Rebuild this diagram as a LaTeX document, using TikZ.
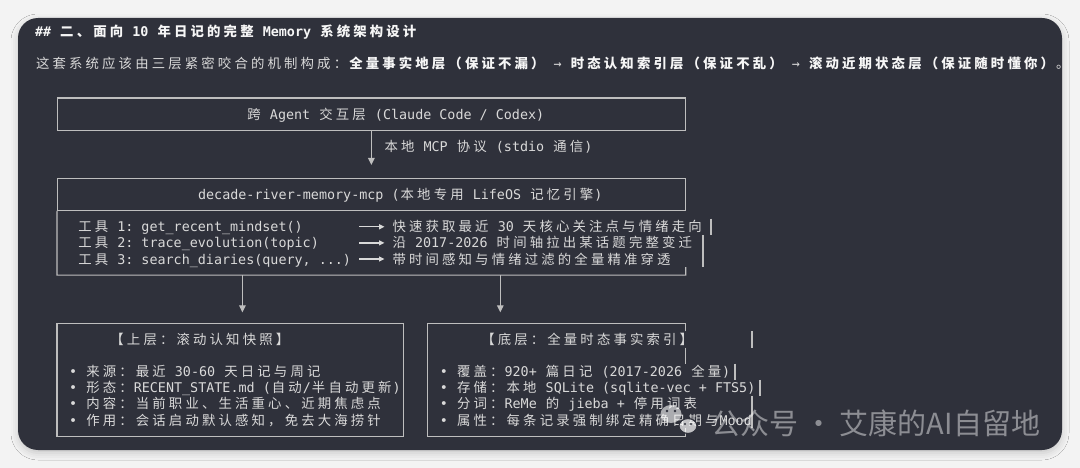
\documentclass[tikz,border=0pt]{standalone}
\usepackage{fontspec}
\setmonofont{DejaVu Sans Mono}
\newfontfamily\cjkfont{Noto Sans CJK SC}
\usetikzlibrary{arrows.meta,shadows.blur}

% every CJK glyph fills two cells of the mono grid
\XeTeXinterchartokenstate=1
\newXeTeXintercharclass\cjkclass
\newcount\cjkcode
\cjkcode="3000
\loop\XeTeXcharclass\cjkcode=\cjkclass \advance\cjkcode by 1 \ifnum\cjkcode<"A000 \repeat
\cjkcode="FF00
\loop\XeTeXcharclass\cjkcode=\cjkclass \advance\cjkcode by 1 \ifnum\cjkcode<"FFF0 \repeat
\XeTeXinterchartoks 0 \cjkclass = {\kern1.05pt\cjkfont}
\XeTeXinterchartoks 4095 \cjkclass = {\kern1.05pt\cjkfont}
\XeTeXinterchartoks \cjkclass 0 = {\kern1.05pt\ttfamily}
\XeTeXinterchartoks \cjkclass 4095 = {\kern1.05pt\ttfamily}
\XeTeXinterchartoks \cjkclass \cjkclass = {\kern2.1pt}

\newcommand\termfont{\fontsize{13.39pt}{16.1pt}\ttfamily}
\newcommand\markfont{\XeTeXinterchartokenstate=0 \cjkfont\fontsize{29pt}{32pt}\selectfont}

\definecolor{pagebg}{HTML}{F3F3F3}
\definecolor{panelbg}{HTML}{2F313B}
\definecolor{framegray}{HTML}{BEBEBE}
\definecolor{txtgray}{HTML}{D9D9D9}
\definecolor{headwhite}{HTML}{F6F6F6}

\begin{document}
\begin{tikzpicture}[x=1pt,y=-1pt,
    every node/.style={inner sep=0pt,outer sep=0pt},
    txt/.style={anchor=base west,text=txtgray,font=\termfont,text height=11.8pt,text depth=1.8pt},
    frame/.style={draw=framegray,line width=1.1pt},
    box/.style={frame,minimum width=628.7pt,minimum height=32.2pt},
    down/.style={frame,-{Triangle[width=6.5pt,length=7pt]}},
    tool/.style={draw=txtgray,line width=1.3pt,-{Triangle[width=5pt,length=5.5pt]},shorten <=8pt,shorten >=7pt}]
  \useasboundingbox (0,0) rectangle (1080,468);
  \fill[pagebg] (0,0) rectangle (1080,468);
  \fill[panelbg,rounded corners=20pt,
    blur shadow={shadow xshift=0pt,shadow yshift=-3pt,shadow blur radius=7pt,shadow opacity=18}]
    (18,18) rectangle (1062,450);

  % header text
  \node[txt,text=headwhite,font=\termfont\bfseries] (title) at (35,37)
    {\#\# 二、面向 10 年日记的完整 Memory 系统架构设计};
  \node[txt] (intro) at (35,69)
    {这套系统应该由三层紧密咬合的机制构成：{\bfseries\color{headwhite}全量事实地层（保证不漏）} → {\bfseries\color{headwhite}时态认知索引层（保证不乱）} → {\bfseries\color{headwhite}滚动近期状态层（保证随时懂你）}。};

  % agent layer
  \node[box] (agent) at (371.4,114.1) {};
  \node[txt] (agentlbl) at (246.4,119.1) {跨 Agent 交互层 (Claude Code / Codex)};
  \node[txt] (mcp) at (383.5,151.3) {本地 MCP 协议 (stdio 通信)};

  % memory engine
  \node[box] (engine) at (371.4,194.6) {};
  \node[txt] (enginelbl) at (198.1,199.6) {decade-river-memory-mcp (本地专用 LifeOS 记忆引擎)};
  \draw[down,shorten >=13.5pt] (agent) -- (engine);

  % tools
  \coordinate (toolsbl) at (57,275.1);
  \coordinate (toolsbr) at (685.7,275.1);
  \draw[frame] (engine.south west) -- (toolsbl) -- (toolsbr) -- (685.7,267.05);
  \draw[frame] (711,218.75) -- (711,234.85);
  \draw[frame] (703,234.85) -- (703,267.05);
  \node[txt] (tool1) at (77.2,231.8) {工具 1: get\_recent\_mindset()};
  \node[txt] (tool2) at (77.2,247.9) {工具 2: trace\_evolution(topic)};
  \node[txt] (tool3) at (77.2,264) {工具 3: search\_diaries(query, ...)};
  \node[txt] (desc1) at (391.5,231.8) {快速获取最近 30 天核心关注点与情绪走向};
  \node[txt] (desc2) at (391.5,247.9) {沿 2017-2026 时间轴拉出某话题完整变迁};
  \node[txt] (desc3) at (391.5,264) {带时间感知与情绪过滤的全量精准穿透};
  \draw[tool] (tool3.east |- tool1.east) -- (desc1.west);
  \draw[tool] (tool3.east |- tool2.east) -- (desc2.west);
  \draw[tool] (tool3.east) -- (desc3.west);

  % upper layer
  \node[frame,minimum width=346.6pt,minimum height=112.7pt] (upper) at (230.3,379.75) {};
  \node[txt] (uppertitle) at (109.4,344.5) {【上层：滚动认知快照】};
  \node[txt] (upper1) at (69.1,376.7) {• 来源：最近 30-60 天日记与周记};
  \node[txt] (upper2) at (69.1,392.8) {• 形态：RECENT\_STATE.md (自动/半自动更新)};
  \node[txt] (upper3) at (69.1,408.9) {• 内容：当前职业、生活重心、近期焦虑点};
  \node[txt] (upper4) at (69.1,425) {• 作用：会话启动默认感知，免去大海捞针};

  % lower layer
  \node[minimum width=257.9pt,minimum height=112.7pt] (lower) at (556.75,379.75) {};
  \draw[frame] (685.7,331.45) -- (lower.north east) -- (lower.north west)
    -- (lower.south west) -- (lower.south east) -- (685.7,428.05);
  \draw[frame] (752,331.45) -- (752,347.55);
  \draw[frame] (685.7,347.55) -- (685.7,363.65);
  \draw[frame] (735,363.65) -- (735,379.75);
  \draw[frame] (760,379.75) -- (760,395.85);
  \draw[frame] (752,395.85) -- (752,428.05);
  \node[txt] (lowertitle) at (480.2,344.5) {【底层：全量时态事实索引】};
  \node[txt] (lower1) at (439.9,376.7) {• 覆盖：920+ 篇日记 (2017-2026 全量)};
  \node[txt] (lower2) at (439.9,392.8) {• 存储：本地 SQLite (sqlite-vec + FTS5)};
  \node[txt] (lower3) at (439.9,408.9) {• 分词：ReMe 的 jieba + 停用词表};
  \node[txt] (lower4) at (439.9,425) {• 属性：每条记录强制绑定精确日期与Mood};

  % links down to the two layers
  \coordinate (forkL) at (242.4,275.1);
  \coordinate (forkR) at (500.3,275.1);
  \draw[down,shorten >=11pt] (forkL) -- (forkL |- upper.north);
  \draw[down,shorten >=11pt] (forkR) -- (forkR |- lower.north);

  % watermark
  \fill[white,opacity=0.6] (671,414) ellipse (10.5pt and 9pt);
  \filldraw[fill=white,fill opacity=0.7,draw=panelbg,line width=1.2pt] (688,426) ellipse (9pt and 7.5pt);
  \fill[panelbg] (667,411) circle (1.3pt) (675,411) circle (1.3pt)
    (685,424) circle (1.1pt) (691,424) circle (1.1pt);
  \node[anchor=west,font=\markfont,text=white,text opacity=0.45] (mark) at (711,423) {公众号 · 艾康的AI自留地};
\end{tikzpicture}
\end{document}
